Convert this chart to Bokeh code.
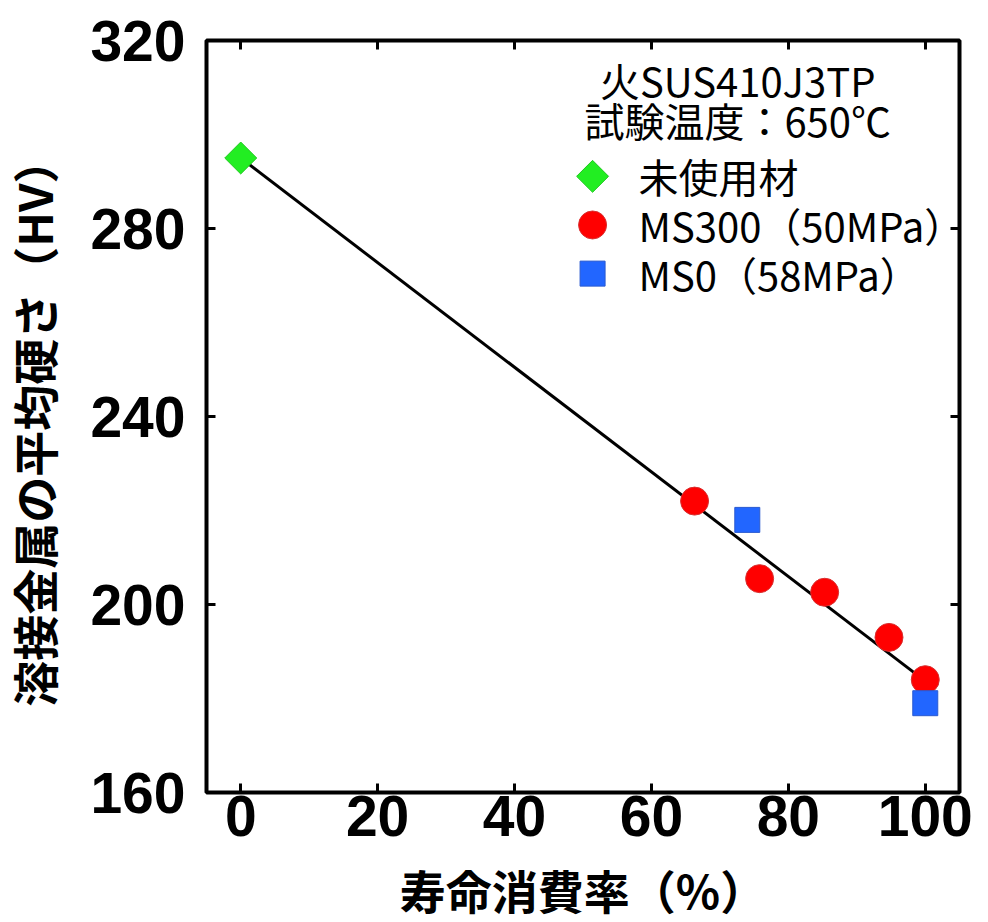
from bokeh.plotting import figure
from bokeh.models import Range1d, LinearAxis, FixedTicker, Label
from bokeh.layouts import row, column
from bokeh.embed import file_html
from bokeh.resources import INLINE
import math

# ---- data ----
unused_x = [0]
unused_y = [295]
ms300_x = [66.3, 75.8, 85.3, 94.7, 100]
ms300_y = [222, 205.5, 202.6, 193, 184]
ms0_x = [74, 100]
ms0_y = [218, 179]
trend_x = [0, 100]
trend_y = [295, 183.7]

x_ticks = [0, 20, 40, 60, 80, 100]
y_ticks = [160, 200, 240, 280, 320]

x_title = "寿命消費率（%）"
y_title = "溶接金属の平均硬さ（HV）"
header_lines = ["火SUS410J3TP", "試験温度：650℃"]
legend_labels = ["未使用材", "MS300（50MPa）", "MS0（58MPa）"]

# ---- styles / layout ----
CJK = "Noto Sans CJK JP"
LAT = "Liberation Sans"
GREEN, RED, BLUE = "#22EE22", "#FF0000", "#2266FF"
series_style = [
    dict(marker="square", size=22.6, angle=math.pi / 4, fill_color=GREEN, line_color="#20C820"),
    dict(marker="circle", size=28, angle=0, fill_color=RED, line_color="#D83030"),
    dict(marker="square", size=25, angle=0, fill_color=BLUE, line_color="#2A5AD0"),
]
LEG_KEY_X, LEG_TEXT_X, LEG_TOP_Y, LEG_STEP = 51.4, 58.1, 291.1, 10.35
HEAD_X, HEAD_Y, HEAD_STEP = 72.6, 311.7, 8.7

YT_W = 80          # width of the strip holding the y-axis title
TOTAL_W, TOTAL_H = 980, 922
MAIN_W, MAIN_H = TOTAL_W - YT_W, 855
XT_H = TOTAL_H - MAIN_H   # strip holding the x-axis title
FRAME_H = 752
B_LEFT, B_RIGHT, B_TOP = 206 - YT_W, 21, 40

xr = Range1d(-5, 105)
yr = Range1d(160, 320)

p = figure(width=MAIN_W, height=MAIN_H, output_backend="svg", toolbar_location=None,
           x_range=xr, y_range=yr,
           min_border_left=B_LEFT, min_border_right=B_RIGHT, min_border_top=B_TOP,
           min_border_bottom=MAIN_H - B_TOP - FRAME_H)
p.xgrid.visible = False
p.ygrid.visible = False
p.outline_line_color = "black"
p.outline_line_width = 4
p.background_fill_color = "white"
p.border_fill_color = "white"

def style_axis(ax, ticks, show_labels):
    ax.ticker = FixedTicker(ticks=ticks)
    ax.axis_line_color = None
    ax.major_tick_in = 9
    ax.major_tick_out = 0
    ax.major_tick_line_width = 3
    ax.major_tick_line_color = "black"
    ax.minor_tick_line_color = None
    if show_labels:
        ax.major_label_text_font = LAT
        ax.major_label_text_font_style = "bold"
        ax.major_label_text_font_size = "57px"
        ax.major_label_text_color = "black"
    else:
        ax.major_label_overrides = {t: "" for t in ticks}
        ax.major_label_text_font_size = "1px"
        ax.major_label_standoff = 0

style_axis(p.xaxis[0], x_ticks, True)
style_axis(p.yaxis[0], y_ticks, True)
p.xaxis[0].major_label_standoff = 3
p.yaxis[0].major_label_standoff = 21

top_ax = LinearAxis()
right_ax = LinearAxis()
style_axis(top_ax, x_ticks, False)
style_axis(right_ax, y_ticks, False)
p.add_layout(top_ax, "above")
p.add_layout(right_ax, "right")

# ---- marks ----
p.line(trend_x, trend_y, line_color="black", line_width=3)
for (xs, ys), st in zip([(unused_x, unused_y), (ms300_x, ms300_y), (ms0_x, ms0_y)],
                        series_style):
    p.scatter(xs, ys, line_width=1, **st)

# ---- header text ----
for i, txt in enumerate(header_lines):
    p.add_layout(Label(x=HEAD_X, y=HEAD_Y - i * HEAD_STEP, text=txt,
                       text_align="center", text_baseline="middle", text_font=CJK,
                       text_font_size="40px", text_color="black"))

# ---- legend ----
for i, (lab, st) in enumerate(zip(legend_labels, series_style)):
    yy = LEG_TOP_Y - i * LEG_STEP
    p.scatter([LEG_KEY_X], [yy], line_width=1, **st)
    p.add_layout(Label(x=LEG_TEXT_X, y=yy, text=lab, text_align="left",
                       text_baseline="middle", text_font=CJK,
                       text_font_size="40px", text_color="black"))

# ---- axis-title strips ----
def strip(width, height, x_range, y_range, **borders):
    f = figure(width=width, height=height, output_backend="svg", toolbar_location=None,
               x_range=x_range, y_range=y_range, x_axis_type=None, y_axis_type=None,
               min_border_left=borders.get("left", 0), min_border_right=borders.get("right", 0),
               min_border_top=borders.get("top", 0), min_border_bottom=borders.get("bottom", 0))
    f.outline_line_color = None
    f.background_fill_color = "white"
    f.border_fill_color = "white"
    return f

xfig = strip(MAIN_W, XT_H, xr, Range1d(0, 1), left=B_LEFT, right=B_RIGHT)
xfig.add_layout(Label(x=50, y=0.5, text=x_title, text_align="center",
                      text_baseline="middle", text_font=CJK, text_font_style="bold",
                      text_font_size="46px", text_color="black"))

yfig = strip(YT_W, TOTAL_H, Range1d(0, 1), yr, top=B_TOP,
             bottom=TOTAL_H - B_TOP - FRAME_H)
yfig.add_layout(Label(x=0.41, y=238.8, text=y_title, angle=math.pi / 2,
                      text_align="center", text_baseline="middle", text_font=CJK,
                      text_font_style="bold", text_font_size="46px", text_color="black"))

layout = row(yfig, column(p, xfig))
open("out.html", "w").write(file_html(layout, INLINE))
